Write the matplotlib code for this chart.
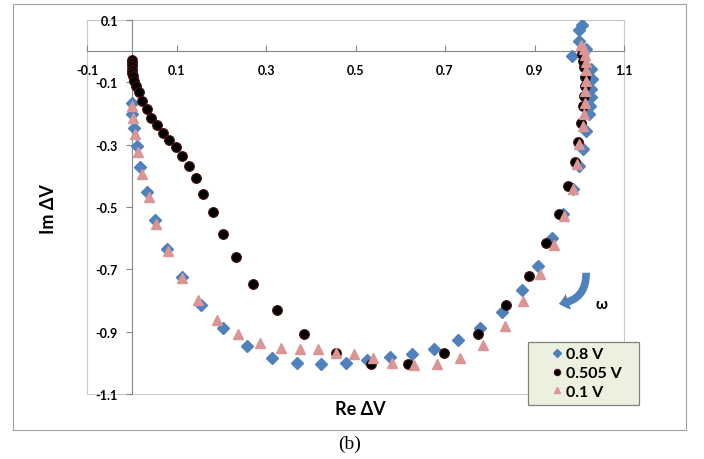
"""Nyquist plot of the impedance response for three bias voltages."""

import matplotlib
matplotlib.use("Agg")
import matplotlib.pyplot as plt
from matplotlib.patches import Rectangle, FancyArrowPatch

# 0.8 V series (diamonds)
re_08 = [0.000, 0.001, 0.004, 0.012, 0.019, 0.033, 0.051, 0.078, 0.113, 0.154,
         0.204, 0.257, 0.313, 0.370, 0.424, 0.478, 0.526, 0.578, 0.626, 0.676,
         0.728, 0.778, 0.828, 0.871, 0.907, 0.940, 0.963, 0.985, 1.000, 1.008,
         1.015, 1.021, 1.023, 1.027, 1.027, 1.029, 1.026, 1.016, 0.983, 1.000,
         1.000, 1.007]
im_08 = [-0.167, -0.202, -0.248, -0.304, -0.373, -0.453, -0.542, -0.635, -0.725, -0.816,
         -0.889, -0.946, -0.984, -1.001, -1.005, -1.001, -0.990, -0.982, -0.972, -0.955,
         -0.927, -0.888, -0.836, -0.766, -0.690, -0.600, -0.522, -0.442, -0.368, -0.314,
         -0.255, -0.202, -0.175, -0.147, -0.122, -0.090, -0.058, 0.007, -0.017, 0.034,
         0.068, 0.083]

# 0.505 V series (circles)
re_0505 = [0.000, 0.000, 0.000, 0.001, 0.001, 0.003, 0.006, 0.010, 0.016, 0.024,
           0.034, 0.044, 0.057, 0.070, 0.084, 0.099, 0.113, 0.127, 0.143, 0.160,
           0.181, 0.204, 0.234, 0.272, 0.325, 0.385, 0.457, 0.534, 0.618, 0.698,
           0.774, 0.837, 0.887, 0.925, 0.955, 0.975, 0.990, 0.998, 1.004, 1.009,
           1.010, 1.012, 1.012, 1.010, 1.009, 1.007]
im_0505 = [-0.028, -0.038, -0.049, -0.060, -0.071, -0.081, -0.095, -0.111, -0.132, -0.159,
           -0.186, -0.215, -0.237, -0.263, -0.284, -0.309, -0.336, -0.368, -0.408, -0.458,
           -0.515, -0.586, -0.661, -0.747, -0.830, -0.908, -0.969, -1.003, -1.005, -0.970,
           -0.907, -0.816, -0.721, -0.617, -0.524, -0.434, -0.356, -0.293, -0.230, -0.175,
           -0.143, -0.111, -0.084, -0.052, -0.031, -0.010]

# 0.1 V series (triangles)
re_01 = [0.000, 0.002, 0.008, 0.013, 0.023, 0.038, 0.055, 0.081, 0.113, 0.149,
         0.191, 0.238, 0.286, 0.334, 0.377, 0.417, 0.457, 0.496, 0.540, 0.582,
         0.631, 0.682, 0.733, 0.785, 0.834, 0.875, 0.913, 0.943, 0.965, 0.985,
         0.994, 1.000, 1.008, 1.010, 1.012, 1.013, 1.014, 1.016, 1.016, 1.013,
         1.010, 1.005]
im_01 = [-0.175, -0.215, -0.266, -0.325, -0.394, -0.469, -0.554, -0.640, -0.729, -0.797,
         -0.862, -0.907, -0.937, -0.951, -0.955, -0.957, -0.967, -0.973, -0.985, -1.001,
         -1.006, -1.005, -0.985, -0.942, -0.883, -0.802, -0.714, -0.622, -0.528, -0.442,
         -0.362, -0.298, -0.240, -0.200, -0.165, -0.128, -0.095, -0.062, -0.036, -0.012,
         0.008, 0.020]

labels = ["0.8 V", "0.505 V", "0.1 V"]
x_ticks = [-0.1, 0.1, 0.3, 0.5, 0.7, 0.9, 1.1]
y_ticks = [0.1, -0.1, -0.3, -0.5, -0.7, -0.9, -1.1]

plt.rcParams["font.family"] = ["Lato", "DejaVu Sans"]
plt.rcParams["font.weight"] = "bold"

W, H = 704, 460
fig = plt.figure(figsize=(W / 100, H / 100), dpi=100)
ax = fig.add_axes([87 / W, 1 - 395 / H, 537 / W, 374 / H])

h08, = ax.plot(re_08, im_08, "D", ms=6.5, color="#4f81bd", mec="#4f81bd", zorder=3)
h0505, = ax.plot(re_0505, im_0505, "o", ms=7, color="#000000", mec="#4a1010", mew=0.8,
                 zorder=4)
h01, = ax.plot(re_01, im_01, "^", ms=7.5, color="#d99694", mec="#d99694", zorder=5)

ax.set_xlim(-0.1, 1.1)
ax.set_ylim(-1.1, 0.1)

# axes cross at the origin, Excel style
for side in ("top", "right"):
    ax.spines[side].set_visible(False)
ax.spines["left"].set_position(("data", 0))
ax.spines["bottom"].set_position(("data", 0))
for side in ("left", "bottom"):
    ax.spines[side].set_color("#868686")
    ax.spines[side].set_linewidth(0.8)
ax.add_patch(Rectangle((0, 0), 1, 1, transform=ax.transAxes, fill=False,
                       ec="#c8c8c8", lw=0.8, zorder=1, clip_on=False))

ax.set_xticks(x_ticks)
ax.set_xticklabels([f"{v:.1f}" for v in x_ticks])
ax.set_yticks(y_ticks)
ax.set_yticklabels([f"{v:.1f}" for v in y_ticks])
ax.tick_params(axis="x", direction="in", length=4, width=0.8, color="#868686",
               pad=9, labelsize=9)
ax.tick_params(axis="y", direction="out", length=4, width=0.8, color="#868686",
               pad=6, labelsize=9)

fig.text(360 / W, 1 - 410 / H, "Re ΔV", ha="center", va="center",
         fontsize=13, fontweight="bold")
fig.text(48 / W, 1 - 209 / H, "Im ΔV", ha="center", va="center",
         rotation=90, fontsize=13, fontweight="bold")

# legend box sits partly outside the plot area
fig.patches.append(Rectangle((528 / W, 1 - 406 / H), 111 / W, 63 / H,
                             transform=fig.transFigure, fc="#ebf1de",
                             ec="#7f7f7f", lw=0.9, zorder=2))
leg = fig.legend([h08, h0505, h01], labels, loc="center",
                 bbox_to_anchor=(586 / W, 1 - 374 / H), frameon=False,
                 markerscale=0.65, handlelength=0.8, handletextpad=0.2,
                 labelspacing=0.28, borderpad=0,
                 prop={"weight": "bold", "size": 11.5})
leg.set_zorder(5)

# frequency direction arrow
arrow = FancyArrowPatch((586 / W, 1 - 271 / H), (556 / W, 1 - 305 / H),
                        transform=fig.transFigure,
                        connectionstyle="arc3,rad=-0.5",
                        arrowstyle="simple,head_width=12,head_length=7,tail_width=5.5",
                        color="#4f81bd", lw=0)
fig.patches.append(arrow)
fig.text(602 / W, 1 - 305 / H, "ω", ha="center", va="center", fontsize=11,
         fontweight="bold")

# outer chart frame and caption
fig.patches.append(Rectangle((13 / W, 1 - 431 / H), 673 / W, 426 / H,
                             transform=fig.transFigure, fill=False,
                             ec="#a0a0a0", lw=0.8))
fig.text(350 / W, 1 - 444 / H, "(b)", ha="center", va="center", fontsize=14,
         family="Liberation Serif", fontweight="normal")

fig.savefig("out.png", dpi=100)
